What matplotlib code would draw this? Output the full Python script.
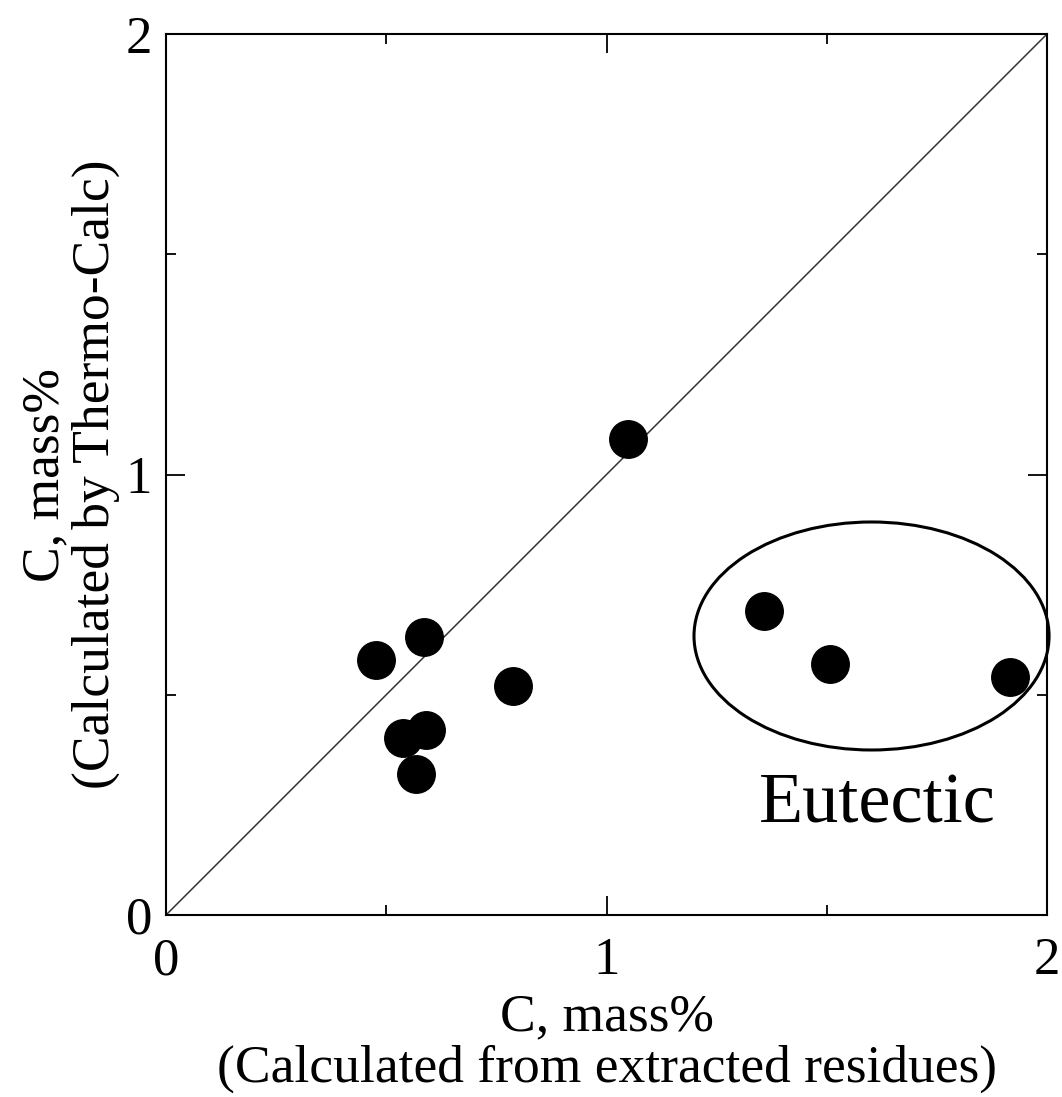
import matplotlib
matplotlib.use("Agg")
import matplotlib.pyplot as plt
from matplotlib.patches import Ellipse

plt.rcParams['font.family'] = ['Liberation Serif', 'DejaVu Serif']
plt.rcParams['mathtext.fontset'] = 'stix'

# Data (C, mass%)
x_residue = [1.049, 0.477, 0.586, 0.788, 0.538, 0.590, 0.568, 1.357, 1.507, 1.916]
y_thermo = [1.081, 0.579, 0.631, 0.520, 0.402, 0.420, 0.320, 0.690, 0.570, 0.540]
ticks_major = [0, 1, 2]
ticks_minor = [0.5, 1.5]
tick_labels = ["0", "1", "2"]

fig = plt.figure(figsize=(10.62, 10.97), dpi=100)
ax = fig.add_axes([0.1563, 0.1659, 0.8296, 0.8031])

ax.plot([0, 2], [0, 2], color='#333333', lw=1.1, zorder=1)
ax.scatter(x_residue, y_thermo, s=27**2, color='black', zorder=3, clip_on=False)

ell = Ellipse((1.6016, 0.6334), 0.806, 0.5176, fill=False, ec='black', lw=2.2,
              clip_on=False, zorder=2)
ax.add_patch(ell)
ax.text(1.614, 0.209, "Eutectic", fontsize=52, ha='center', va='baseline')

ax.set_xlim(0, 2)
ax.set_ylim(0, 2)
ax.set_xticks(ticks_major)
ax.set_xticklabels(tick_labels)
ax.set_yticks(ticks_major)
ax.set_yticklabels(tick_labels)
ax.set_xticks(ticks_minor, minor=True)
ax.set_yticks(ticks_minor, minor=True)

for s in ax.spines.values():
    s.set_linewidth(1.5)

ax.tick_params(which='both', direction='in', top=True, right=True, width=1.3)
ax.tick_params(which='major', length=14, labelsize=38)
ax.tick_params(which='minor', length=7)
ax.tick_params(axis='x', which='major', pad=16)
ax.tick_params(axis='y', which='major', pad=10)

ax.set_xlabel("C, mass%\n(Calculated from extracted residues)", fontsize=38.5,
              linespacing=1.08, labelpad=6)
ax.set_ylabel("C, mass%\n(Calculated by Thermo-Calc)", fontsize=38.5,
              linespacing=1.08, labelpad=4)

fig.savefig("out.png", dpi=100)
